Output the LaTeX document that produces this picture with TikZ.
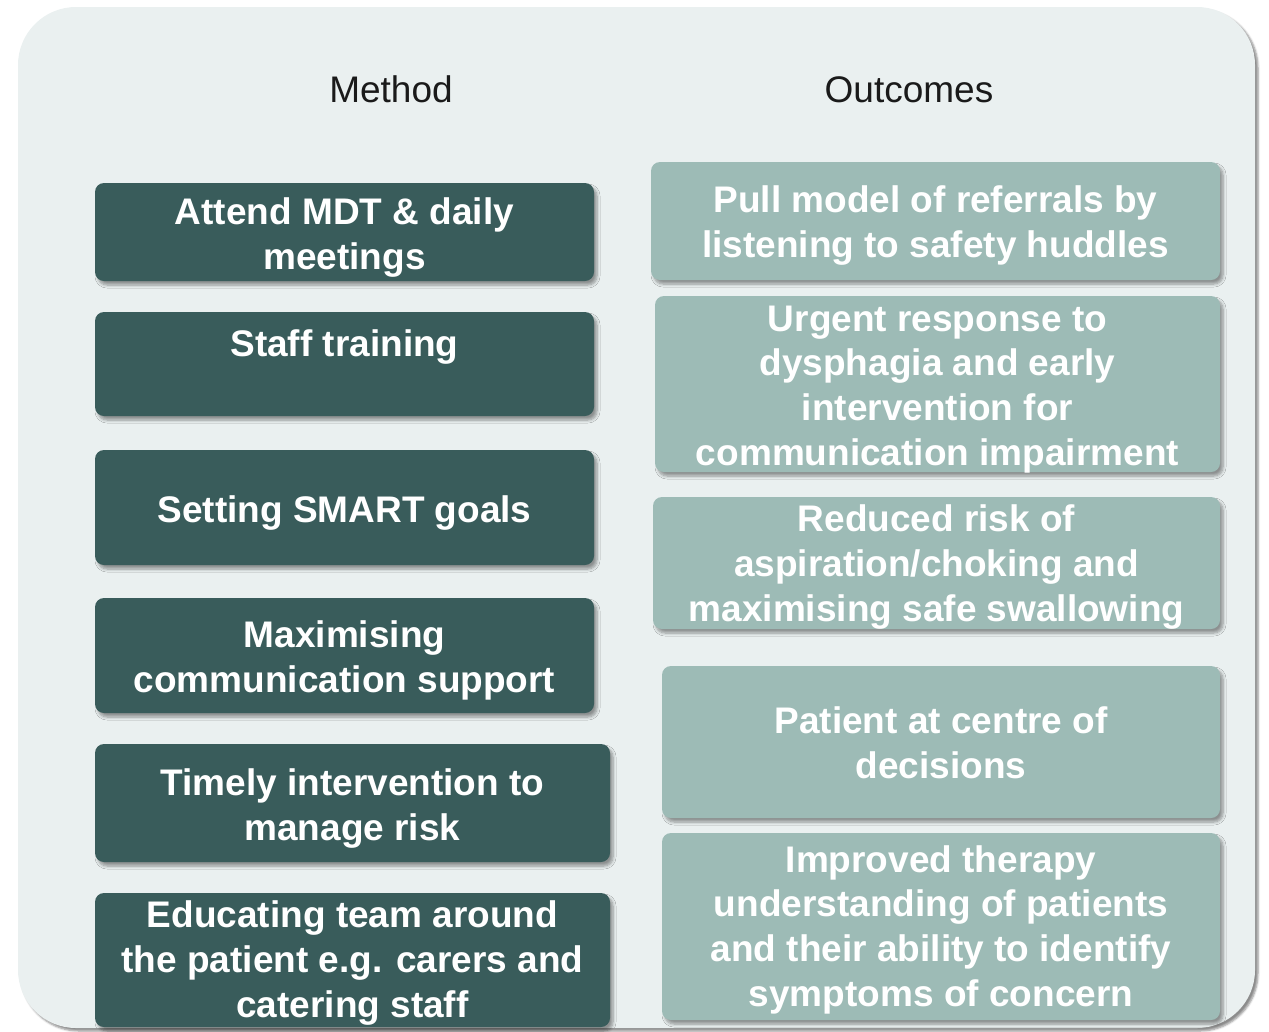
\documentclass[tikz,border=0pt]{standalone}
\usepackage{fontspec}
\setmainfont{Liberation Sans}
\usetikzlibrary{shadows.blur}
\definecolor{panelbg}{HTML}{EAF0F0}
\definecolor{darkbox}{HTML}{395C5B}
\definecolor{lightbox}{HTML}{9DBBB6}
\definecolor{headtext}{HTML}{1A1A1A}
\tikzset{
  boxbase/.style={rectangle, rounded corners=9pt, inner sep=0pt,
    blur shadow={shadow xshift=3pt, shadow yshift=-4pt, shadow blur steps=6,
      shadow blur radius=3pt, shadow opacity=40}},
  mbox/.style={boxbase, fill=darkbox},
  obox/.style={boxbase, fill=lightbox},
  btext/.style={text=white, font=\bfseries\fontsize{37}{44.6}\selectfont,
    align=center, inner sep=0pt, anchor=base},
  headtxt/.style={text=headtext, font=\fontsize{37}{44.6}\selectfont,
    inner sep=0pt, anchor=base}
}
\begin{document}
\begin{tikzpicture}[x=1pt,y=-1pt]
\useasboundingbox (0,0) rectangle (1269,1031);
% panel
\path[fill=panelbg, rounded corners=58pt,
  blur shadow={shadow xshift=3pt, shadow yshift=-3pt, shadow blur steps=5,
    shadow blur radius=2pt, shadow opacity=45}]
  (18,7) rectangle (1255,1028);
% headers
\node[headtxt] (hm) at (391,102) {Method};
\node[headtxt] (ho) at (909,102) {Outcomes};
% method boxes
\node[mbox, minimum width=499pt, minimum height=98pt]  (m1) at (344.5,232) {};
\node[mbox, minimum width=499pt, minimum height=104pt] (m2) at (344.5,364) {};
\node[mbox, minimum width=499pt, minimum height=115pt] (m3) at (344.5,507.5) {};
\node[mbox, minimum width=499pt, minimum height=115pt] (m4) at (344.5,655.5) {};
\node[mbox, minimum width=515pt, minimum height=118pt] (m5) at (352.5,803) {};
\node[mbox, minimum width=515pt, minimum height=134pt] (m6) at (352.5,960) {};
% outcome boxes
\node[obox, minimum width=569pt, minimum height=118pt] (o1) at (935.5,221) {};
\node[obox, minimum width=565pt, minimum height=176pt] (o2) at (937.5,384) {};
\node[obox, minimum width=567pt, minimum height=132pt] (o3) at (936.5,563) {};
\node[obox, minimum width=558pt, minimum height=152pt] (o4) at (941,742) {};
\node[obox, minimum width=558pt, minimum height=187pt] (o5) at (941,926.5) {};
% method texts (anchored at the baseline of the last line)
\node[btext] (tm1) at (344.5,269) {Attend MDT \& daily\\meetings};
\node[btext] (tm2) at (344.5,356) {Staff training};
\node[btext] (tm3) at (344.5,522) {Setting SMART goals};
\node[btext] (tm4) at (344.5,692) {Maximising\\communication support};
\node[btext] (tm5) at (352.5,840) {Timely intervention to\\manage risk};
\node[btext] (tm6) at (352.5,1017) {Educating team around\\the patient e.g. carers and\\catering staff};
% outcome texts
\node[btext] (to1) at (935.5,257) {Pull model of referrals by\\listening to safety huddles};
\node[btext] (to2) at (937.5,465) {Urgent response to\\dysphagia and early\\intervention for\\communication impairment};
\node[btext] (to3) at (936.5,621) {Reduced risk of\\aspiration/choking and\\maximising safe swallowing};
\node[btext] (to4) at (941,778) {Patient at centre of\\decisions};
\node[btext] (to5) at (941,1006) {Improved therapy\\understanding of patients\\and their ability to identify\\symptoms of concern};
\end{tikzpicture}
\end{document}
